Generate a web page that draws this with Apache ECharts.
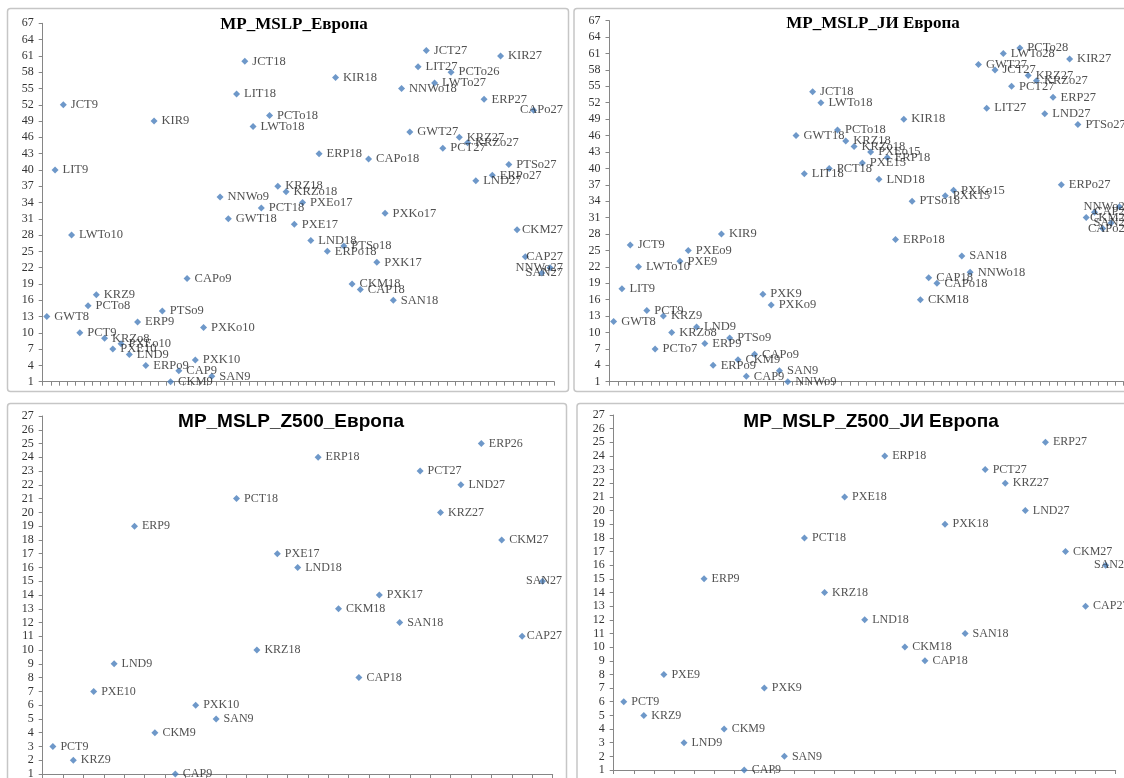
<!DOCTYPE html>
<html>
<head>
<meta charset="utf-8">
<title>MP_MSLP</title>
<script src="https://cdn.jsdelivr.net/npm/echarts@6/dist/echarts.min.js"></script>
<style>
  html, body { margin: 0; padding: 0; background: #ffffff; }
  #chart { width: 1124px; height: 778px; }
</style>
</head>
<body>
<div id="chart"></div>
<script>
// ---- Panel 1: MP_MSLP_Европа ----
const eurNames = [
  'GWT8','LIT9','JCT9','LWTo10','PCT9','PCTo8','KRZ9','KRZo8','PXE10','PXEo10','LND9',
  'ERP9','ERPo9','KIR9','PTSo9','CKM9','CAP9','CAPo9','PXK10','PXKo10','SAN9','NNWo9',
  'GWT18','LIT18','JCT18','LWTo18','PCT18','PCTo18','KRZ18','KRZo18','PXE17','PXEo17','LND18',
  'ERP18','ERPo18','KIR18','PTSo18','CKM18','CAP18','CAPo18','PXK17','PXKo17','SAN18','NNWo18',
  'GWT27','LIT27','JCT27','LWTo27','PCT27','PCTo26','KRZ27','KRZo27','LND27',
  'ERP27','ERPo27','KIR27','PTSo27','CKM27','CAP27','CAPo27','SAN27','NNWo27'
];
const eurValues = [
  13,40,52,28,10,15,17,9,7,8,6,
  12,4,49,14,1,3,20,5,11,2,35,
  31,54,60,48,33,50,37,36,30,34,27,
  43,25,57,26,19,18,42,23,32,16,55,
  47,59,62,56,44,58,46,45,38,
  53,39,61,41,29,24,51,21,22
];

// ---- Panel 2: MP_MSLP_ЈИ Европа ----
const seNames = [
  'GWT8','LIT9','JCT9','LWTo10','PCT9','PCTo7','KRZ9','KRZo8','PXE9','PXEo9','LND9',
  'ERP9','ERPo9','KIR9','PTSo9','CKM9','CAP9','CAPo9','PXK9','PXKo9','SAN9','NNWo9',
  'GWT18','LIT18','JCT18','LWTo18','PCT18','PCTo18','KRZ18','KRZo18','PXE15','PXEo15','LND18',
  'ERP18','ERPo18','KIR18','PTSo18','CKM18','CAP18','CAPo18','PXK15','PXKo15','SAN18','NNWo18',
  'GWT27','LIT27','JCT27','LWTo28','PCT27','PCTo28','KRZ27','KRZo27','LND27',
  'ERP27','ERPo27','KIR27','PTSo27','CKM27','CAP27','CAPo27','SAN27','NNWo27'
];
const seValues = [
  12,18,26,22,14,7,13,10,23,25,11,
  8,4,28,9,5,2,6,17,15,3,1,
  46,39,54,52,40,47,45,44,41,43,38,
  42,27,49,34,16,20,19,35,36,24,21,
  59,51,58,61,55,62,57,56,50,
  53,37,60,48,31,32,29,30,33
];

// ---- Panel 3: MP_MSLP_Z500_Европа ----
const z500EurNames = [
  'PCT9','KRZ9','PXE10','LND9','ERP9','CKM9','CAP9','PXK10','SAN9',
  'PCT18','KRZ18','PXE17','LND18','ERP18','CKM18','CAP18','PXK17','SAN18',
  'PCT27','KRZ27','LND27','ERP26','CKM27','CAP27','SAN27'
];
const z500EurValues = [
  3,2,7,9,19,4,1,6,5,
  21,10,17,16,24,13,8,14,12,
  23,20,22,25,18,11,15
];

// ---- Panel 4: MP_MSLP_Z500_ЈИ Европа ----
const z500SeNames = [
  'PCT9','KRZ9','PXE9','LND9','ERP9','CKM9','CAP9','PXK9','SAN9',
  'PCT18','KRZ18','PXE18','LND18','ERP18','CKM18','CAP18','PXK18','SAN18',
  'PCT27','KRZ27','LND27','ERP27','CKM27','CAP27','SAN27'
];
const z500SeValues = [
  6,5,8,3,15,4,1,7,2,
  18,14,21,12,24,10,9,19,11,
  23,22,20,25,17,13,16
];

const titles = ['MP_MSLP_Европа', 'MP_MSLP_ЈИ Европа', 'MP_MSLP_Z500_Европа', 'MP_MSLP_Z500_ЈИ Европа'];

const SERIF = '"Liberation Serif", "Times New Roman", serif';
const SANS = '"Liberation Sans", Arial, sans-serif';
const AXIS_GRAY = '#868686';
const MARKER = '#4a7ebb';

// plot areas (pixels)
const grids = [
  { left: 42.7, top: 23.3, width: 511.5, height: 358.4 },
  { left: 609.5, top: 20.7, width: 514, height: 361 },
  { left: 42.7, top: 416, width: 510, height: 358 },
  { left: 613.7, top: 415, width: 502, height: 355 }
];

// labels that would run past the chart area are pulled back inside it
function keepInside(limit) {
  return function (p) {
    const r = p.labelRect;
    if (r.x + r.width > limit) {
      return { x: limit - r.width, y: r.y + r.height / 2, align: 'left', verticalAlign: 'middle' };
    }
    return {};
  };
}

function xAxisFor(i, names) {
  return {
    type: 'category', gridIndex: i, data: names, boundaryGap: true,
    axisLine: { show: true, onZero: false, lineStyle: { color: AXIS_GRAY, width: 1 } },
    axisTick: { show: true, interval: 0, length: 4, lineStyle: { color: AXIS_GRAY } },
    axisLabel: { show: false, interval: 0 },
    splitLine: { show: false }
  };
}

function yAxisFor(i, max, step) {
  return {
    type: 'value', gridIndex: i, min: 1, max: max, interval: step,
    axisLine: { show: true, lineStyle: { color: AXIS_GRAY, width: 1 } },
    axisTick: { show: true, length: 4, lineStyle: { color: AXIS_GRAY } },
    axisLabel: { show: true, margin: 9, fontFamily: SERIF, fontSize: 12, color: '#333333' },
    splitLine: { show: false }
  };
}

function seriesFor(i, names, values, fontSize, limit) {
  return {
    type: 'scatter', xAxisIndex: i, yAxisIndex: i,
    data: values,
    symbol: 'diamond', symbolSize: 7,
    itemStyle: { color: MARKER },
    label: {
      show: true, position: 'right', distance: 4,
      formatter: function (p) { return names[p.dataIndex]; },
      fontFamily: SERIF, fontSize: fontSize, color: '#262626'
    },
    labelLayout: keepInside(limit),
    emphasis: { disabled: true },
    silent: true
  };
}

const frame = { fill: 'none', stroke: '#c6c6c6', lineWidth: 1.5 };

const option = {
  animation: false,
  backgroundColor: '#ffffff',
  grid: grids.map(g => Object.assign({ containLabel: false, outerBoundsMode: 'none' }, g)),
  xAxis: [
    xAxisFor(0, eurNames), xAxisFor(1, seNames),
    xAxisFor(2, z500EurNames), xAxisFor(3, z500SeNames)
  ],
  yAxis: [
    yAxisFor(0, 67, 3), yAxisFor(1, 67, 3),
    yAxisFor(2, 27, 1), yAxisFor(3, 27, 1)
  ],
  series: [
    seriesFor(0, eurNames, eurValues, 12.5, 563),
    seriesFor(1, seNames, seValues, 12.5, 1131),
    seriesFor(2, z500EurNames, z500EurValues, 12, 562),
    seriesFor(3, z500SeNames, z500SeValues, 12, 1130)
  ],
  graphic: [
    { type: 'rect', silent: true, shape: { x: 7.5, y: 8.5, width: 561, height: 383, r: 3 }, style: frame },
    { type: 'rect', silent: true, shape: { x: 574, y: 8.5, width: 580, height: 383, r: 3 }, style: frame },
    { type: 'rect', silent: true, shape: { x: 7.5, y: 403.5, width: 559, height: 400, r: 3 }, style: frame },
    { type: 'rect', silent: true, shape: { x: 577, y: 403.5, width: 580, height: 400, r: 3 }, style: frame },
    { type: 'text', silent: true, x: 294, y: 25, style: { text: titles[0], fontFamily: SERIF, fontWeight: 'bold', fontSize: 17, fill: '#000', align: 'center', verticalAlign: 'middle' } },
    { type: 'text', silent: true, x: 873, y: 24, style: { text: titles[1], fontFamily: SERIF, fontWeight: 'bold', fontSize: 17, fill: '#000', align: 'center', verticalAlign: 'middle' } },
    { type: 'text', silent: true, x: 291, y: 422, style: { text: titles[2], fontFamily: SANS, fontWeight: 'bold', fontSize: 19, fill: '#000', align: 'center', verticalAlign: 'middle' } },
    { type: 'text', silent: true, x: 871, y: 422, style: { text: titles[3], fontFamily: SANS, fontWeight: 'bold', fontSize: 19, fill: '#000', align: 'center', verticalAlign: 'middle' } }
  ]
};

const chart = echarts.init(document.getElementById('chart'), null, { renderer: 'canvas' });
chart.setOption(option);
</script>
</body>
</html>
